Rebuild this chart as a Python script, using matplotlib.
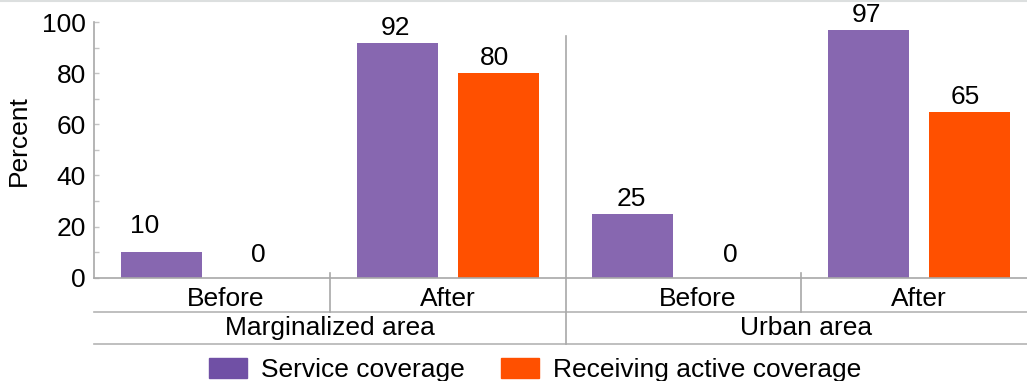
import matplotlib.pyplot as plt
import numpy as np
from matplotlib.lines import Line2D
from matplotlib.patches import Patch

plt.rcParams['font.family'] = ['Liberation Sans', 'DejaVu Sans']

# data
areas = ['Marginalized area', 'Urban area']
periods = ['Before', 'After', 'Before', 'After']
service = [10, 92, 25, 97]
active = [0, 80, 0, 65]
series_names = ['Service coverage', 'Receiving active coverage']

bar_colors = ['#8767b0', '#ff5000']
legend_colors = ['#7050a5', '#ff5000']
grid_gray = '#a8a8a8'
FS = 19

W, H = 1027, 381
fig = plt.figure(figsize=(W / 100, H / 100), dpi=100)

# axes in pixel terms: left 94, right 1037 (runs off the edge), top 22.5, bottom 277.5
ax = fig.add_axes([94 / W, (H - 277.5) / H, (1037 - 94) / W, 255 / H])
x = np.arange(len(periods))
bw = 0.343
off = 0.214
b1 = ax.bar(x - off, service, bw, color=bar_colors[0])
b2 = ax.bar(x + off, active, bw, color=bar_colors[1])

ax.set_xlim(-0.5, 3.5)
ax.set_ylim(0, 100)
ax.set_yticks(np.arange(0, 101, 20))
ax.set_yticks(np.arange(10, 100, 20), minor=True)
ax.set_xticks([])
ax.tick_params(axis='y', which='both', direction='in', length=3.6, width=1,
               color='#c4c4c4', labelsize=FS, pad=6)
for s in ['top', 'right']:
    ax.spines[s].set_visible(False)
for s in ['left', 'bottom']:
    ax.spines[s].set_color(grid_gray)
    ax.spines[s].set_linewidth(1.2)

# value labels; small bars get their labels pushed up a little more
def lift(v):
    if v == 0:
        return 16
    if v < 15:
        return 19
    return 8

for i in range(len(periods)):
    dx = -17 if service[i] < 15 else -2
    ax.annotate(str(service[i]), (x[i] - off, service[i]), xytext=(dx, lift(service[i])),
                textcoords='offset pixels', ha='center', va='baseline', fontsize=FS)
    ax.annotate(str(active[i]), (x[i] + off, active[i]), xytext=(-4, lift(active[i])),
                textcoords='offset pixels', ha='center', va='baseline', fontsize=FS)

# category table under the axis, y in pixels from the top
tr = ax.get_xaxis_transform()
def ay(py):
    return (277.5 - py) / 255.0

for i, p in enumerate(periods):
    shift = 0.06 if p == 'Before' else 0.0
    ax.text(x[i] + shift, ay(306.5), p, transform=tr, ha='center', va='baseline',
            fontsize=FS, clip_on=False)
for g, name in enumerate(areas):
    ax.text(2 * g + 0.5 + 0.02 * g, ay(335), name, transform=tr, ha='center',
            va='baseline', fontsize=FS, clip_on=False)

for py in [312, 344]:
    ax.add_line(Line2D([-0.5, 3.5], [ay(py), ay(py)], transform=tr, color='#b4b4b4',
                       lw=1.2, clip_on=False))
for xs in [0.5, 2.5]:
    ax.add_line(Line2D([xs, xs], [ay(273), ay(312)], transform=tr, color=grid_gray,
                       lw=1.2, clip_on=False))
ax.add_line(Line2D([1.5, 1.5], [ay(36), ay(344)], transform=tr, color=grid_gray,
                   lw=1.2, clip_on=False))

# thin rule along the top edge
fig.add_artist(Line2D([0, 1], [1 - 1 / H, 1 - 1 / H], color='#dcdfdf', lw=1.5))

fig.text(19 / W, 1 - 141 / H, 'Percent', rotation=90, ha='center', va='center', fontsize=FS)

handles = [Patch(color=c) for c in legend_colors]
fig.legend(handles, series_names, loc='center', ncol=2, frameon=False, fontsize=FS,
           bbox_to_anchor=(535 / W, 1 - 370 / H), handlelength=1.44, handleheight=0.83,
           handletextpad=0.53, columnspacing=1.4, borderpad=0, borderaxespad=0)

fig.savefig('out.png', dpi=100)
